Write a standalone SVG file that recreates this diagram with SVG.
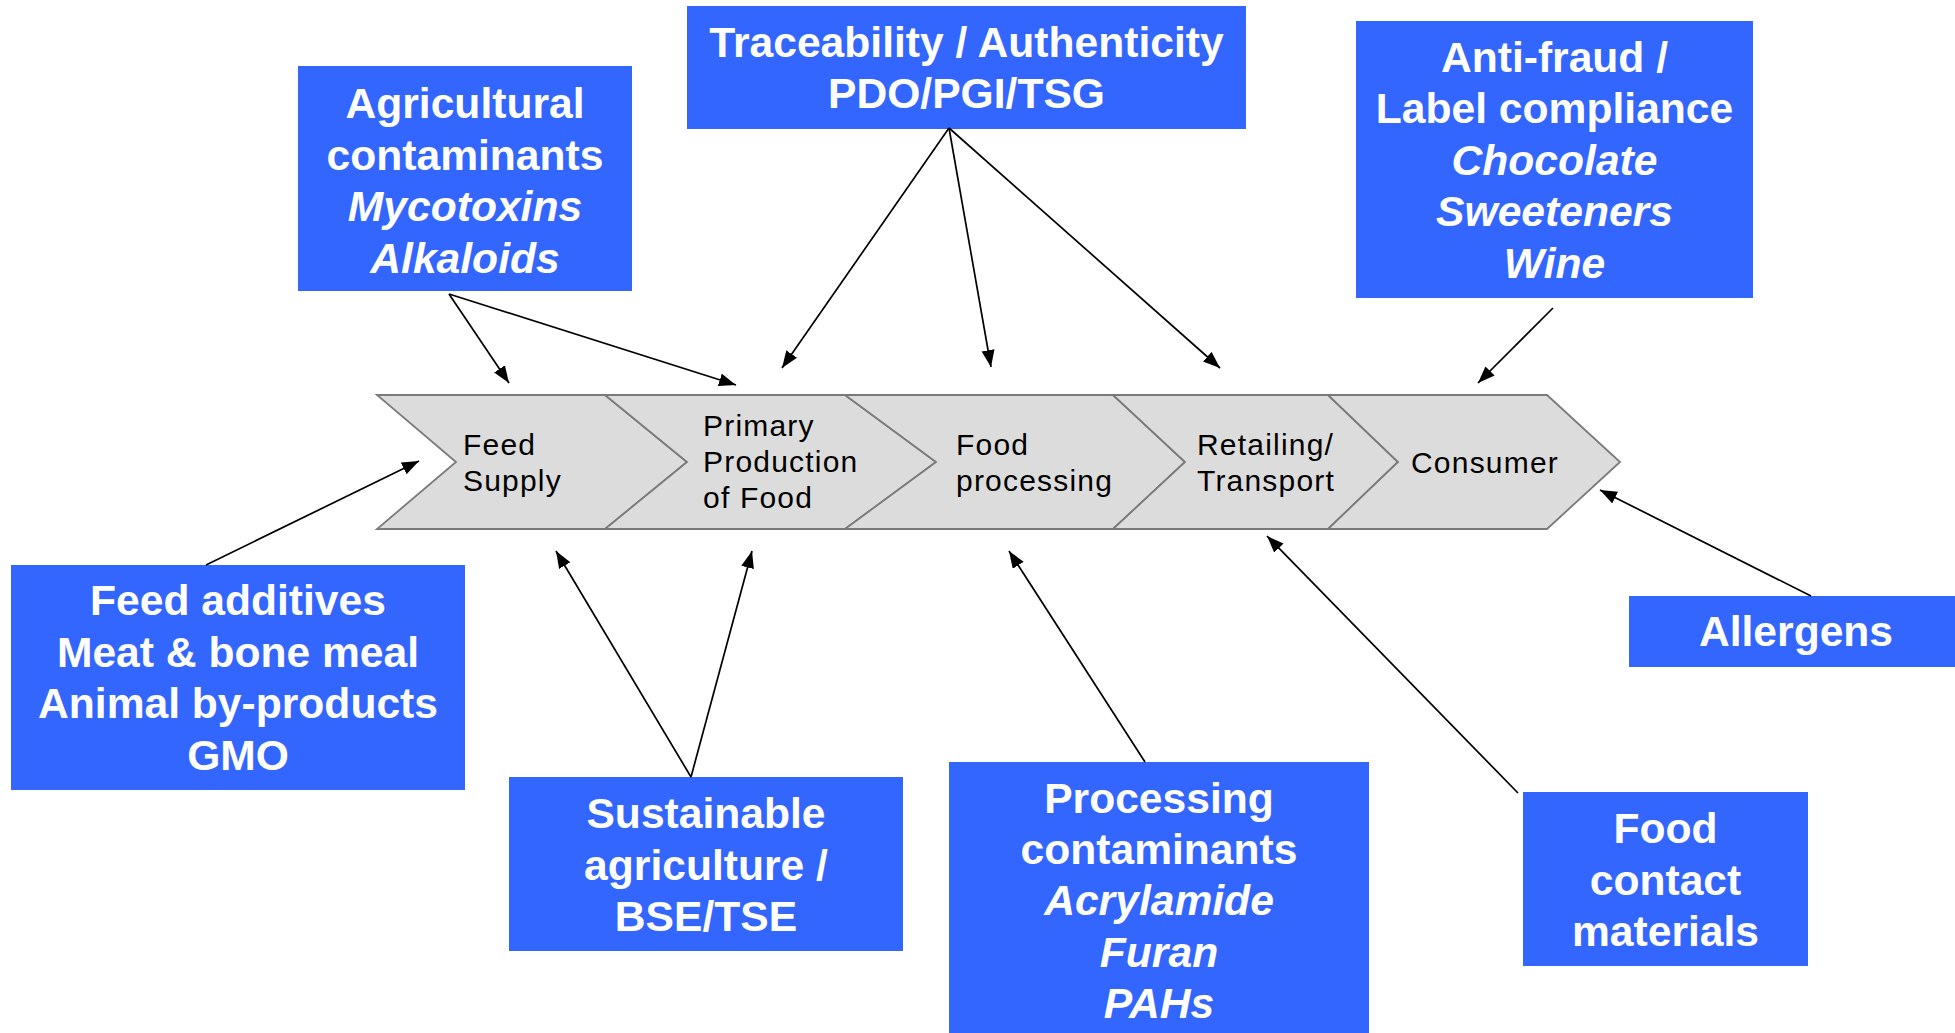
<svg xmlns="http://www.w3.org/2000/svg" width="1955" height="1033" viewBox="0 0 1955 1033">
<style>
.box{fill:#3366FF;}
.bt{font-family:"Liberation Sans",Arial,sans-serif;font-size:42.6px;font-weight:bold;fill:#fff;text-anchor:middle;}
.it{font-style:italic;}
.chev{fill:#DCDCDC;stroke:#7A7A7A;stroke-width:1.8;stroke-linejoin:miter;}
.ct{font-family:"Liberation Sans",Arial,sans-serif;font-size:30px;fill:#000;letter-spacing:1.2px;}
.con{stroke:#000;stroke-width:1.7;fill:none;marker-end:url(#ah);}
</style>
<defs>
<marker id="ah" markerUnits="userSpaceOnUse" markerWidth="18" markerHeight="14" refX="17" refY="6.5" orient="auto">
<path d="M0,0 L17,6.5 L0,13 z" fill="#000"/>
</marker>
</defs>
<rect width="1955" height="1033" fill="#fff"/>

<g id="chain">
<g id="feed-supply">
<polygon class="chev" points="377,395 605,395 687,462 605,529 377,529 456,462"/>
<text class="ct" x="463" y="455">Feed</text>
<text class="ct" x="463" y="491">Supply</text>
</g>
<g id="primary-production">
<polygon class="chev" points="605,395 845,395 936,462 845,529 605,529 687,462"/>
<text class="ct" x="703" y="436">Primary</text>
<text class="ct" x="703" y="472">Production</text>
<text class="ct" x="703" y="508">of Food</text>
</g>
<g id="food-processing">
<polygon class="chev" points="845,395 1113,395 1185,462 1113,529 845,529 936,462"/>
<text class="ct" x="956" y="455">Food</text>
<text class="ct" x="956" y="491">processing</text>
</g>
<g id="retailing">
<polygon class="chev" points="1113,395 1328,395 1398,462 1328,529 1113,529 1185,462"/>
<text class="ct" x="1197" y="455">Retailing/</text>
<text class="ct" x="1197" y="491">Transport</text>
</g>
<g id="consumer">
<polygon class="chev" points="1328,395 1547,395 1620,462 1547,529 1328,529 1398,462"/>
<text class="ct" x="1411" y="473">Consumer</text>
</g>
</g>

<g id="agricultural">
<rect class="box" x="298" y="66" width="334" height="225"/>
<text class="bt" x="465" y="118">Agricultural</text>
<text class="bt" x="465" y="169.5">contaminants</text>
<text class="bt it" x="465" y="221">Mycotoxins</text>
<text class="bt it" x="465" y="272.5">Alkaloids</text>
</g>
<g id="traceability">
<rect class="box" x="687" y="6" width="559" height="123"/>
<text class="bt" x="966.5" y="57">Traceability / Authenticity</text>
<text class="bt" x="966.5" y="108">PDO/PGI/TSG</text>
</g>
<g id="anti-fraud">
<rect class="box" x="1356" y="21" width="397" height="277"/>
<text class="bt" x="1554.5" y="71.5">Anti-fraud /</text>
<text class="bt" x="1554.5" y="123">Label compliance</text>
<text class="bt it" x="1554.5" y="174.5">Chocolate</text>
<text class="bt it" x="1554.5" y="226">Sweeteners</text>
<text class="bt it" x="1554.5" y="277.5">Wine</text>
</g>
<g id="feed-additives">
<rect class="box" x="11" y="565" width="454" height="225"/>
<text class="bt" x="238" y="615">Feed additives</text>
<text class="bt" x="238" y="666.5">Meat &amp; bone meal</text>
<text class="bt" x="238" y="718">Animal by-products</text>
<text class="bt" x="238" y="769.5">GMO</text>
</g>
<g id="sustainable">
<rect class="box" x="509" y="777" width="394" height="174"/>
<text class="bt" x="706" y="828">Sustainable</text>
<text class="bt" x="706" y="879.5">agriculture /</text>
<text class="bt" x="706" y="931">BSE/TSE</text>
</g>
<g id="processing">
<rect class="box" x="949" y="762" width="420" height="271"/>
<text class="bt" x="1159" y="813">Processing</text>
<text class="bt" x="1159" y="864">contaminants</text>
<text class="bt it" x="1159" y="915">Acrylamide</text>
<text class="bt it" x="1159" y="966.5">Furan</text>
<text class="bt it" x="1159" y="1018">PAHs</text>
</g>
<g id="food-contact">
<rect class="box" x="1523" y="792" width="285" height="174"/>
<text class="bt" x="1665.5" y="843">Food</text>
<text class="bt" x="1665.5" y="894.5">contact</text>
<text class="bt" x="1665.5" y="946">materials</text>
</g>
<g id="allergens">
<rect class="box" x="1629" y="596" width="326" height="71"/>
<text class="bt" x="1796" y="646">Allergens</text>
</g>

<g id="connectors">
<line class="con" x1="449" y1="294" x2="509" y2="383"/>
<line class="con" x1="449" y1="294" x2="736" y2="385"/>
<line class="con" x1="949" y1="128" x2="782" y2="368"/>
<line class="con" x1="949" y1="128" x2="991" y2="367"/>
<line class="con" x1="949" y1="128" x2="1220" y2="368"/>
<line class="con" x1="1553" y1="308" x2="1478" y2="383"/>
<line class="con" x1="206" y1="565" x2="419" y2="461"/>
<line class="con" x1="691" y1="777" x2="556" y2="551"/>
<line class="con" x1="691" y1="777" x2="752" y2="551"/>
<line class="con" x1="1145" y1="762" x2="1009" y2="551"/>
<line class="con" x1="1518" y1="793" x2="1267" y2="536"/>
<line class="con" x1="1811" y1="596" x2="1600" y2="490"/>
</g>
</svg>
